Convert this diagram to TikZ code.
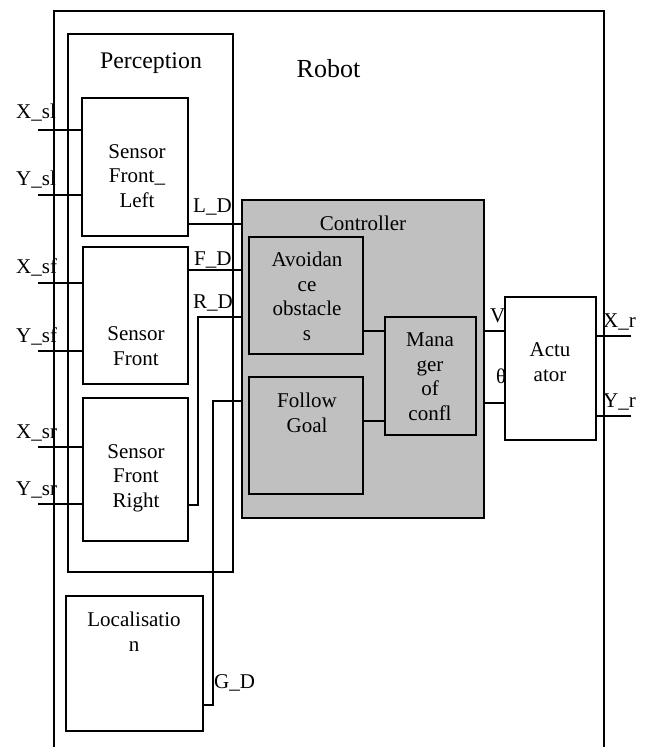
\documentclass[tikz,border=0pt]{standalone}
\usepackage{fontspec}
\setmainfont{Liberation Serif}
\usetikzlibrary{positioning, calc}
\definecolor{ctrlGray}{HTML}{C0C0C0}

\begin{document}
\begin{tikzpicture}[x=1pt, y=-1pt,
  blk/.style={draw, line width=1.6pt, inner sep=0pt, outer sep=0pt, anchor=north west},
  wire/.style={line width=1.6pt},
  txt/.style={font=\fontsize{21}{24.5}\selectfont, align=center, inner sep=0pt, anchor=base},
  lbl/.style={font=\fontsize{21}{24.5}\selectfont, inner sep=0pt, anchor=base west}]
  \useasboundingbox (0,0) rectangle (645,747);
  \clip (0,0) rectangle (645,747);

  % Robot frame, open at the bottom
  \node[blk, minimum width=550pt, minimum height=780pt] (robot) at (54,11) {};
  \node[txt, font=\fontsize{26}{30}\selectfont] (robotlbl) at (328.5,77) {Robot};

  % Perception
  \node[blk, minimum width=165pt, minimum height=538pt] (perc) at (68,34) {};
  \node[txt, font=\fontsize{23.8}{27}\selectfont] (perclbl) at (151,68) {Perception};
  \node[blk, minimum width=106pt, minimum height=138pt] (sfl) at (82,98) {};
  \node[txt] (sfltxt) at (137,207) {Sensor\\Front\_\\Left};
  \node[blk, minimum width=105pt, minimum height=137pt] (sf) at (83,247) {};
  \node[txt] (sftxt) at (136,365) {Sensor\\Front};
  \node[blk, minimum width=105pt, minimum height=143pt] (sfr) at (83,398) {};
  \node[txt] (sfrtxt) at (136,507) {Sensor\\Front\\Right};

  % Localisation
  \node[blk, minimum width=137pt, minimum height=135pt] (loc) at (66,596) {};
  \node[txt] (loctxt) at (134,651) {Localisatio\\n};

  % Controller
  \node[blk, fill=ctrlGray, minimum width=242pt, minimum height=318pt] (ctrl) at (242,200) {};
  \node[txt] (ctrltxt) at (363,230) {Controller};
  \node[blk, minimum width=114pt, minimum height=117pt] (avoid) at (249,237) {};
  \node[txt] (avoidtxt) at (307,340) {Avoidan\\ce\\obstacle\\s};
  \node[blk, minimum width=114pt, minimum height=117pt] (follow) at (249,377) {};
  \node[txt] (followtxt) at (307,432) {Follow\\Goal};
  \node[blk, minimum width=91pt, minimum height=118pt] (mgr) at (385,317) {};
  \node[txt] (mgrtxt) at (430,420) {Mana\\ger\\of\\confl};

  % Actuator
  \node[blk, minimum width=91pt, minimum height=143pt] (act) at (505,297) {};
  \node[txt] (acttxt) at (550,381) {Actu\\ator};

  % sensor inputs
  \foreach \nm/\yy/\ly/\tg in {X\_sl/130/118/sfl, Y\_sl/195/185/sfl, X\_sf/283/273/sf,
                               Y\_sf/351/342/sf, X\_sr/447/438/sfr, Y\_sr/504/495/sfr} {
    \coordinate (in\yy) at (38,\yy);
    \draw[wire] (in\yy) -- (in\yy -| \tg.west);
    \node[lbl] (inlbl\yy) at (16,\ly) {\nm};
  }

  % distances to the controller
  \draw[wire] (sfl.east |- 0,224) -- (ctrl.west |- 0,224);
  \node[lbl] (ld) at (193,212) {L\_D};
  \draw[wire] (sf.east |- 0,270) -- (ctrl.west |- 0,270);
  \node[lbl] (fd) at (194,265) {F\_D};
  \draw[wire] (sfr.east |- 0,505) -| (198,317) -- (ctrl.west |- 0,317);
  \node[lbl] (rd) at (193,308) {R\_D};
  \draw[wire] (loc.east |- 0,705) -| (213,401) -- (ctrl.west |- 0,401);
  \node[lbl] (gd) at (214,688) {G\_D};

  % inside the controller
  \draw[wire] (avoid.east |- 0,331) -- (mgr.west |- 0,331);
  \draw[wire] (follow.east |- 0,421) -- (mgr.west |- 0,421);

  % commands and outputs
  \draw[wire] (ctrl.east |- 0,331) -- (act.west |- 0,331);
  \node[lbl] (vlbl) at (490,322) {V};
  \draw[wire] (ctrl.east |- 0,403) -- (act.west |- 0,403);
  \node[lbl] (thlbl) at (496,383) {θ};
  \coordinate (xr) at (631,336);
  \coordinate (yr) at (631,416);
  \draw[wire] (act.east |- xr) -- (xr);
  \node[lbl] (xrlbl) at (603,327) {X\_r};
  \draw[wire] (act.east |- yr) -- (yr);
  \node[lbl] (yrlbl) at (603,407) {Y\_r};
\end{tikzpicture}
\end{document}
